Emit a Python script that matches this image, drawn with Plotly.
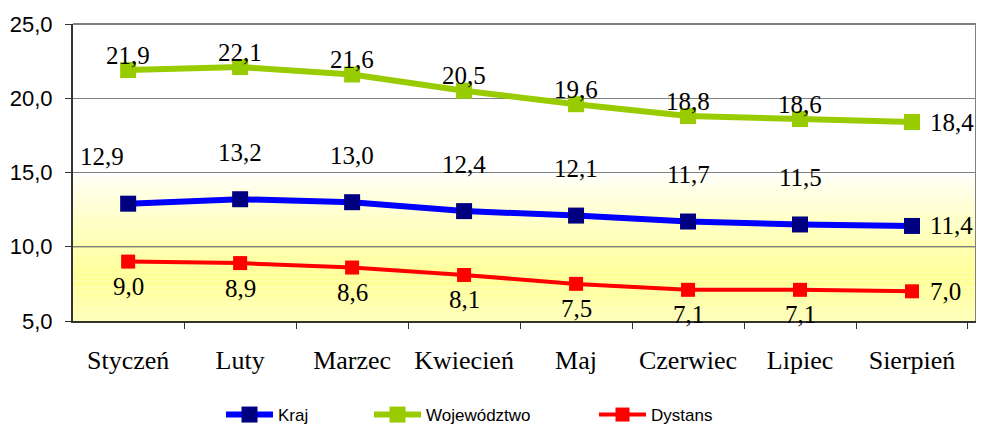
import plotly.graph_objects as go

# Dane
miesiace = ["Styczeń", "Luty", "Marzec", "Kwiecień", "Maj", "Czerwiec", "Lipiec", "Sierpień"]
kraj = [12.9, 13.2, 13.0, 12.4, 12.1, 11.7, 11.5, 11.4]
wojewodztwo = [21.9, 22.1, 21.6, 20.5, 19.6, 18.8, 18.6, 18.4]
dystans = [9.0, 8.9, 8.6, 8.1, 7.5, 7.1, 7.1, 7.0]

serif = "Liberation Serif, Times New Roman, serif"
sans = "Liberation Sans, Arial, sans-serif"

fig = go.Figure()

series = [
    ("Kraj", kraj, "#0000FF", "#000080", 6, 16, "legend"),
    ("Województwo", wojewodztwo, "#99CC00", "#99CC00", 6, 16, "legend2"),
    ("Dystans", dystans, "#FF0000", "#FF0000", 4, 14, "legend3"),
]
for name, vals, lc, mc, lw, ms, lg in series:
    fig.add_trace(go.Scatter(
        x=miesiace, y=vals, name=name, mode="lines+markers",
        line=dict(color=lc, width=lw),
        marker=dict(symbol="square", size=ms, color=mc, line=dict(width=0)),
        cliponaxis=False, legend=lg,
    ))

# etykiety danych (przesunięcia w pikselach jak w Excelu)
def etykiety(vals, yshift, first_dx=0):
    for i, (m, v) in enumerate(zip(miesiace, vals)):
        txt = f"{v:.1f}".replace(".", ",")
        if i == len(vals) - 1:
            fig.add_annotation(x=m, y=v, text=txt, showarrow=False, xanchor="left",
                               xshift=16, font=dict(family=serif, size=25, color="black"))
        else:
            fig.add_annotation(x=m, y=v, text=txt, showarrow=False,
                               yshift=yshift, xshift=first_dx if i == 0 else 0,
                               font=dict(family=serif, size=25, color="black"))

etykiety(kraj, 47, first_dx=-26)
etykiety(wojewodztwo, 15)
etykiety(dystans, -25)

# tło: biel powyżej 15, gradient biel -> żółty poniżej
def mix(c1, c2, t):
    return "rgb(%d,%d,%d)" % tuple(round(a + (b - a) * t) for a, b in zip(c1, c2))

white = (255, 255, 255)
yellow = (255, 255, 150)
light = (255, 255, 185)
n = 40
for k in range(n):
    y0 = 15 - 10 * k / n
    y1 = 15 - 10 * (k + 1) / n
    ym = (y0 + y1) / 2
    if ym > 8:
        col = mix(white, yellow, ((15 - ym) / 7) ** 0.8)
    else:
        col = mix(yellow, light, (8 - ym) / 3)
    fig.add_shape(type="rect", xref="paper", yref="y", x0=0, x1=1, y0=y1, y1=y0,
                  fillcolor=col, line=dict(width=0), layer="below")

for yv in (10, 15):
    fig.add_shape(type="line", xref="paper", yref="y", x0=0, x1=1, y0=yv, y1=yv,
                  line=dict(color="#333333", width=1), layer="below")
# ramka góra / prawo
fig.add_shape(type="line", xref="paper", yref="paper", x0=0, x1=1, y0=1, y1=1,
              line=dict(color="#808080", width=2))
fig.add_shape(type="line", xref="paper", yref="paper", x0=1, x1=1, y0=0, y1=1,
              line=dict(color="#808080", width=2))

# strona ma margines 8 px, więc figura jest o 8 px mniejsza
leg = dict(orientation="h", xanchor="left", y=-0.3165, yanchor="middle",
           font=dict(family=sans, size=17, color="black"),
           itemwidth=47, bgcolor="rgba(0,0,0,0)", borderwidth=0)
fig.update_layout(
    width=976, height=420,
    margin=dict(l=65, r=8, t=16, b=107, autoexpand=False),
    paper_bgcolor="white", plot_bgcolor="white",
    separators=",.",
    showlegend=True,
    legend=dict(leg, x=(213 - 65) / 903),
    legend2=dict(leg, x=(361 - 65) / 903),
    legend3=dict(leg, x=(586 - 65) / 903),
)
fig.update_xaxes(
    showgrid=False, showline=True, linecolor="#333333", linewidth=2,
    ticks="outside", tickson="boundaries", ticklen=6, tickcolor="#333333",
    ticklabelstandoff=15, automargin=False,
    tickfont=dict(family=serif, size=26, color="black"),
)
fig.update_yaxes(
    range=[5, 25], dtick=5, tickformat=".1f",
    showgrid=True, gridcolor="#808080", gridwidth=1,
    showline=True, linecolor="#333333", linewidth=2,
    ticks="outside", ticklen=6, tickcolor="#333333",
    ticklabelstandoff=8, automargin=False,
    tickfont=dict(family=sans, size=22, color="black"),
    zeroline=False,
)

fig.write_html("out.html")
